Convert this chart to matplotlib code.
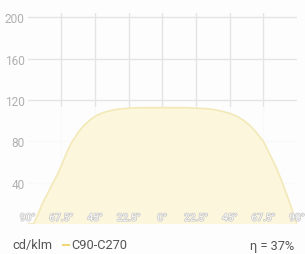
import matplotlib.pyplot as plt
import matplotlib.patheffects as pe
from matplotlib.patches import Rectangle

plt.rcParams['font.family'] = ['Roboto', 'DejaVu Sans']

# C90-C270 curve, cd/klm vs angle
angles = [-90, -86, -82.5, -80, -75, -70, -67.5, -63, -60, -56, -52.5, -48, -45, -40, -35, -30,
          -22.5, -15, 0, 15, 22.5, 30, 35, 40, 45, 50, 54, 58, 62, 67.5, 72, 76, 80, 85, 88, 90]
values = [0, 0, 11, 20, 34, 48, 56, 72, 80, 89, 95, 101, 104, 107.5, 109.5, 111,
          112, 112.5, 112.5, 112.5, 112, 111.5, 110.5, 109, 107, 104, 100.5, 96, 90, 80, 67, 55, 41, 21, 8, 0]

y_ticks = [40, 80, 120, 160, 200]
x_ticks = [-90, -67.5, -45, -22.5, 0, 22.5, 45, 67.5, 90]
x_labels = ["90°", "67.5°", "45°", "22.5°", "0°", "22.5°", "45°", "67.5°", "90°"]
series_name = "C90-C270"
unit = "cd/klm"
efficiency = "η = 37%"

fig = plt.figure(figsize=(3.05, 2.55), dpi=100, facecolor='#fdfdfd')
ax = fig.add_axes([27.5 / 305, 30 / 255, 269.5 / 305, 211 / 255])
ax.set_facecolor('#fdfdfd')

ax.set_xlim(-90, 90)
ax.set_ylim(0, 204)

# grid
for v in y_ticks:
    ax.axhline(v, color='#e4e4e4', lw=1, zorder=1)
for a in x_ticks[1:-1]:
    ax.axvline(a, color='#e4e4e4', lw=1, zorder=1)

# faded lower band
ax.add_patch(Rectangle((-90, 0), 180, 113, facecolor='#fdfdfd', alpha=0.85,
                       edgecolor='none', zorder=2))

ax.fill_between(angles, values, 0, facecolor='#fbf6dc', edgecolor='none', zorder=3)
ax.plot(angles, values, color='#f3e9b8', lw=1.2, zorder=4)

ax.set_xticks([])
ax.set_yticks(y_ticks)
ax.set_yticklabels([str(v) for v in y_ticks], fontsize=8.6, color='#b0b0b0')
ax.tick_params(axis='y', length=0, pad=2)
for s in ax.spines.values():
    s.set_visible(False)

for a, lab in zip(x_ticks, x_labels):
    ax.text(a, 6, lab, ha='center', va='center', fontsize=7.4, color='#fbfbfb',
            zorder=6, clip_on=False,
            path_effects=[pe.withStroke(linewidth=1.0, foreground='#c6c6c6')])

fig.text(12 / 305, 1 - 246 / 255, unit, fontsize=9.2, color='#555555', va='center', ha='left')
fig.add_artist(plt.Line2D([62.5 / 305, 68.5 / 305], [1 - 246 / 255, 1 - 246 / 255],
                          color='#f0d878', lw=1.5))
fig.text(71 / 305, 1 - 246 / 255, series_name, fontsize=9.2, color='#555555', va='center', ha='left')
fig.text(294 / 305, 1 - 247 / 255, efficiency, fontsize=9.2, color='#555555', va='center', ha='right')

fig.savefig('out.png', dpi=100, facecolor=fig.get_facecolor())
